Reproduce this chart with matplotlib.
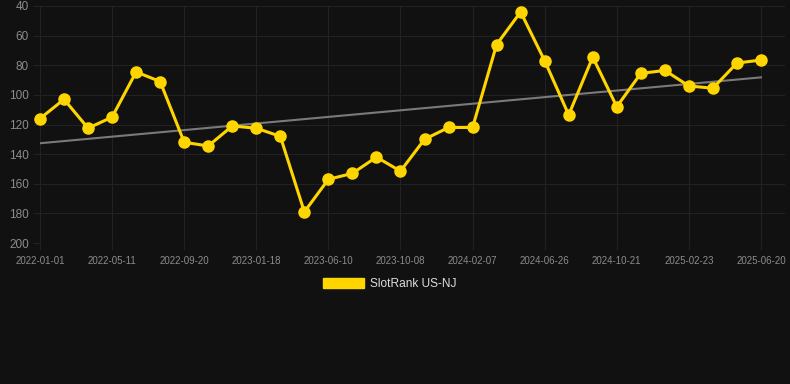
import numpy as np
import matplotlib
matplotlib.use("Agg")
import matplotlib.pyplot as plt
from matplotlib.patches import Patch

plt.rcParams["font.family"] = ["Liberation Sans", "DejaVu Sans"]

# rank values, one point per period (31 periods)
ranks = [116, 103, 122.5, 115, 84.5, 91, 132, 134.5, 121, 122.5, 128,
         179, 157, 153, 142, 151.5, 130, 122, 122, 66, 44, 77, 113.5,
         74.5, 108, 85.5, 83.5, 94, 95.5, 78.5, 76.5]
# labels shown every third point
tick_labels = ["2022-01-01", "2022-05-11", "2022-09-20", "2023-01-18",
               "2023-06-10", "2023-10-08", "2024-02-07", "2024-06-26",
               "2024-10-21", "2025-02-23", "2025-06-20"]
series_name = "SlotRank US-NJ"

bg = "#111111"
gold = "#FFD500"
grid_c = "#222222"
txt_c = "#8c8c8c"

x = np.arange(len(ranks))
y = np.array(ranks, dtype=float)

fig = plt.figure(figsize=(7.9, 3.84), dpi=100, facecolor=bg)
ax = fig.add_axes([40 / 790, 1 - 243 / 384, 745 / 790, 237 / 384])
ax.set_facecolor(bg)

# trend line (least squares)
k, b = np.polyfit(x, y, 1)
ax.plot(x, k * x + b, color="#7a7a7a", lw=1.5, zorder=2)

ax.plot(x, y, color=gold, lw=2.2, marker="o", ms=8, mfc=gold, mec=gold,
        zorder=3, clip_on=False)

ax.set_xlim(0, 31)
ax.set_ylim(200, 40)
ax.set_yticks(range(40, 201, 20))
ax.set_xticks(x[::3])
ax.set_xticklabels(tick_labels)
ax.grid(True, color=grid_c, lw=0.8)
for s in ax.spines.values():
    s.set_visible(False)
ax.tick_params(axis="y", colors=grid_c, labelcolor=txt_c, labelsize=8.5, length=5, pad=3)
ax.tick_params(axis="x", colors=grid_c, labelcolor=txt_c, labelsize=7, length=5, pad=4)

fig.legend(handles=[Patch(facecolor=gold, edgecolor=gold)], labels=[series_name],
           loc="center", bbox_to_anchor=(390 / 790, 1 - 284 / 384), frameon=False,
           labelcolor="#dddddd", fontsize=8.6, handlelength=3.4, handleheight=0.9,
           handletextpad=0.5)

fig.savefig("out.png", dpi=100, facecolor=bg)
